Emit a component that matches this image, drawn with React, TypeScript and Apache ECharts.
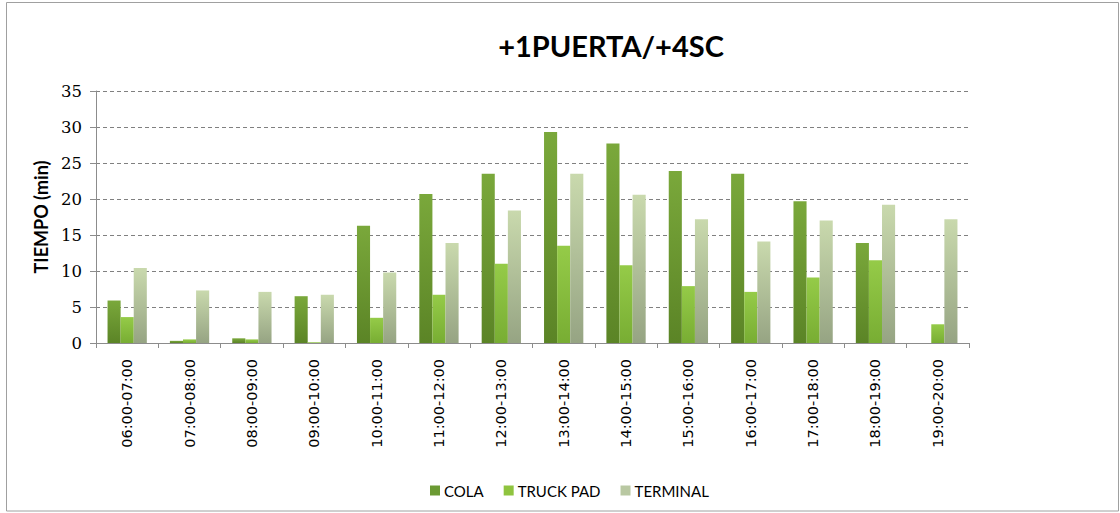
import React, { useEffect, useRef } from "react";
import * as echarts from "echarts";

const categories = [
  "06:00-07:00", "07:00-08:00", "08:00-09:00", "09:00-10:00", "10:00-11:00",
  "11:00-12:00", "12:00-13:00", "13:00-14:00", "14:00-15:00", "15:00-16:00",
  "16:00-17:00", "17:00-18:00", "18:00-19:00", "19:00-20:00",
];
const cola = [5.9, 0.3, 0.65, 6.5, 16.3, 20.7, 23.5, 29.3, 27.7, 23.9, 23.5, 19.7, 13.9, 0];
const truckPad = [3.6, 0.5, 0.5, 0.1, 3.5, 6.7, 11.0, 13.5, 10.8, 7.9, 7.1, 9.1, 11.5, 2.6];
const terminal = [10.4, 7.3, 7.1, 6.7, 9.8, 13.9, 18.4, 23.5, 20.6, 17.2, 14.1, 17.0, 19.2, 17.2];
const seriesNames = ["COLA", "TRUCK PAD", "TERMINAL"];
const yTicks = { min: 0, max: 35, interval: 5 };

const grad = (top: string, bottom: string) =>
  new echarts.graphic.LinearGradient(0, 0, 0, 1, [
    { offset: 0, color: top },
    { offset: 1, color: bottom },
  ]);

export default function App() {
  const ref = useRef<HTMLDivElement>(null);
  useEffect(() => {
    if (!ref.current) return;
    const chart = echarts.init(ref.current, null, { renderer: "svg" });
    const mk = (name: string, data: number[], top: string, bottom: string, legendColor: string) => ({
      name,
      type: "bar",
      data,
      barGap: "0%",
      barCategoryGap: "37%",
      itemStyle: { color: grad(top, bottom) },
      emphasis: { disabled: true },
      legendColor,
    });
    const s = [
      mk(seriesNames[0], cola, "#7aa83b", "#5b8426", "#6b9a33"),
      mk(seriesNames[1], truckPad, "#95cb48", "#78ad33", "#8fc43f"),
      mk(seriesNames[2], terminal, "#c9d9ad", "#96a483", "#b9c8a2"),
    ];
    chart.setOption({
      animation: false,
      backgroundColor: "#ffffff",
      title: {
        text: "+1PUERTA/+4SC",
        left: 606,
        textAlign: "center",
        top: 26,
        textStyle: { fontFamily: "Lato", fontWeight: "bold", fontSize: 29, color: "#000" },
      },
      legend: {
        left: 425,
        top: 478,
        itemWidth: 10,
        itemHeight: 10,
        itemGap: 20,
        icon: "rect",
        textStyle: { fontFamily: "Lato", fontSize: 15, color: "#000", padding: [0, 0, 0, -1] },
        data: s.map((x) => ({ name: x.name, itemStyle: { color: x.legendColor } })),
      },
      grid: { left: 96, right: 151, top: 91, bottom: 170, containLabel: false },
      xAxis: {
        type: "category",
        data: categories,
        axisLine: { lineStyle: { color: "#8c8c8c", width: 1 } },
        axisTick: { show: true, alignWithLabel: false, length: 5, lineStyle: { color: "#8c8c8c" } },
        axisLabel: {
          rotate: 90,
          margin: 16,
          interval: 0,
          fontFamily: "DejaVu Sans",
          fontSize: 14.5,
          color: "#000",
        },
      },
      yAxis: {
        type: "value",
        min: yTicks.min,
        max: yTicks.max,
        interval: yTicks.interval,
        name: "TIEMPO (min)",
        nameLocation: "middle",
        nameGap: 45,
        nameTextStyle: { fontFamily: "Lato", fontWeight: "bold", fontSize: 18, color: "#000" },
        axisLine: { show: true, lineStyle: { color: "#8c8c8c", width: 1 } },
        axisTick: { show: true, length: 6, lineStyle: { color: "#8c8c8c" } },
        axisLabel: { margin: 14, fontFamily: "DejaVu Serif", fontSize: 16.5, color: "#000" },
        splitLine: { show: true, lineStyle: { color: "#808080", type: [4, 3], width: 1 } },
      },
      graphic: [
        {
          type: "rect",
          shape: { x: 6.5, y: 2.5, width: 1112, height: 508.5 },
          style: { fill: "none", stroke: "#a0a0a0", lineWidth: 1 },
          silent: true,
          z: -1,
        },
      ],
      series: s.map(({ legendColor, ...rest }) => rest),
    });
    return () => chart.dispose();
  }, []);
  return (
    <div
      ref={ref}
      style={{ position: "fixed", left: 0, top: 0, width: 1120, height: 513 }}
    />
  );
}
